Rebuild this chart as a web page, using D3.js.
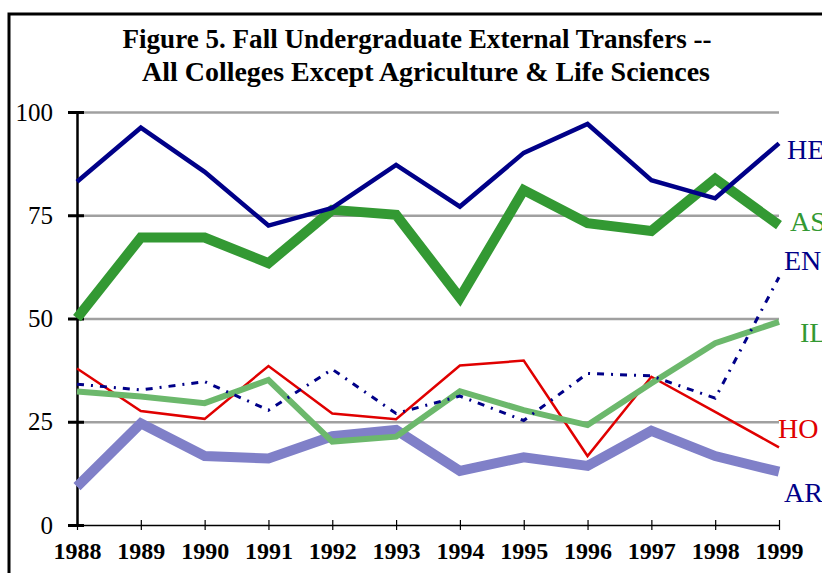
<!DOCTYPE html>
<html>
<head>
<meta charset="utf-8">
<script src="https://cdn.jsdelivr.net/npm/d3@7"></script>
<style>
  body { margin: 0; background: #fff; }
  svg { display: block; }
</style>
</head>
<body>
<div id="chart-area"></div>
<script>
// data
const years = [1988, 1989, 1990, 1991, 1992, 1993, 1994, 1995, 1996, 1997, 1998, 1999];
const yTicks = [0, 25, 50, 75, 100];
const titleLines = ["Figure 5. Fall Undergraduate External Transfers --",
                    "All Colleges Except Agriculture & Life Sciences"];

const HE = [83.1, 96.2, 85.5, 72.5, 76.8, 87.2, 77.1, 90.1, 97.1, 83.5, 79.1, 92.4];
const AS = [50.1, 69.6, 69.6, 63.4, 76.3, 75.1, 55.0, 81.1, 73.1, 71.2, 83.8, 72.6];
const EN = [34.1, 32.7, 34.7, 27.8, 37.7, 27.0, 31.2, 25.3, 36.7, 36.1, 30.7, 60.0];
const IL = [32.3, 31.1, 29.5, 35.1, 20.2, 21.4, 32.4, 27.8, 24.2, 34.3, 44.0, 49.2];
const HO = [37.9, 27.6, 25.7, 38.5, 27.0, 25.6, 38.6, 39.8, 16.7, 35.9, 27.4, 18.8];
const AR = [9.3, 24.6, 16.7, 16.1, 21.5, 23.0, 13.1, 16.4, 14.3, 22.8, 16.7, 12.9];

const seriesNames = ["AR", "HO", "IL", "EN", "AS", "HE"];
const seriesValues = [AR, HO, IL, EN, AS, HE];

// look of each line + where its label sits (pixel offsets from the line end)
const styles = {
    HE: {stroke: "#000088", width: 4.5, dash: null, label: "#000088", dx: 8, dy: 16},
    AS: {stroke: "#339933", width: 10, dash: null, label: "#339933", dx: 11, dy: 6},
    EN: {stroke: "#000088", width: 3, dash: "7,7,2,7", label: "#000088", dx: 5, dy: -7},
    IL: {stroke: "#6cb86c", width: 6, dash: null, label: "#339933", dx: 21, dy: 20},
    HO: {stroke: "#e00000", width: 2.5, dash: null, label: "#e00000", dx: -1, dy: -9},
    AR: {stroke: "#8080c8", width: 10, dash: null, label: "#000088", dx: 5, dy: 30}
};

const width = 822, height = 573;
const margin = {top: 112, right: 43, bottom: 48, left: 77};

const svg = d3.select("#chart-area").append("svg")
    .attr("width", width)
    .attr("height", height);

// outer frame (runs off the right and bottom edges)
svg.append("rect")
    .attr("x", 9).attr("y", 14)
    .attr("width", 900).attr("height", 700)
    .attr("fill", "none")
    .attr("stroke", "#000")
    .attr("stroke-width", 3);

const x = d3.scaleLinear()
    .domain(d3.extent(years))
    .range([margin.left, width - margin.right]);

const y = d3.scaleLinear()
    .domain([0, 100])
    .range([height - margin.bottom, margin.top]);

// title (the original face is a narrow bold serif, so squeeze to its widths)
const titleWidths = [589, 568];
svg.append("g")
    .attr("font-family", "'Liberation Serif', serif")
    .attr("font-weight", "bold")
    .attr("font-size", 27)
    .attr("text-anchor", "middle")
  .selectAll("text")
  .data(titleLines)
  .join("text")
    .attr("x", (d, i) => i === 0 ? 417 : 426)
    .attr("y", (d, i) => 48 + i * 33)
    .attr("textLength", (d, i) => titleWidths[i])
    .attr("lengthAdjust", "spacingAndGlyphs")
    .text(d => d);

// gridlines
svg.append("g")
    .attr("transform", `translate(${margin.left},0)`)
    .call(d3.axisLeft(y).tickValues(yTicks.filter(d => d > 0))
        .tickSize(-(x.range()[1] - x.range()[0])).tickFormat(""))
    .call(g => g.select(".domain").remove())
    .call(g => g.selectAll(".tick line").attr("stroke", "#a0a0a0").attr("stroke-width", 2.5));

// x axis
svg.append("g")
    .attr("transform", `translate(0,${y(0)})`)
    .call(d3.axisBottom(x).tickValues(years).tickFormat(d3.format("d")).tickSizeOuter(0))
    .call(g => g.select(".domain").attr("stroke-width", 1.5))
    .call(g => g.selectAll(".tick line").attr("y1", -5).attr("y2", 5).attr("stroke-width", 1.2))
    .call(g => g.selectAll(".tick text")
        .attr("y", 17)
        .attr("font-family", "'Liberation Serif', serif")
        .attr("font-weight", "bold")
        .attr("font-size", 24)
        .attr("fill", "#000"));

// y axis
svg.append("g")
    .attr("transform", `translate(${margin.left},0)`)
    .call(d3.axisLeft(y).tickValues(yTicks).tickSizeOuter(0).tickPadding(15))
    .call(g => g.select(".domain").attr("stroke-width", 2.5))
    .call(g => g.selectAll(".tick line").attr("x1", 7).attr("x2", -9).attr("stroke-width", 3))
    .call(g => g.selectAll(".tick text")
        .attr("x", -24)
        .attr("font-family", "'Liberation Serif', serif")
        .attr("font-size", 25)
        .attr("fill", "#000"));

const line = d3.line()
    .x((d, i) => x(years[i]))
    .y(d => y(d));

const series = seriesNames.map((name, i) => ({name: name, values: seriesValues[i]}));

svg.append("g")
    .attr("fill", "none")
    .attr("stroke-linejoin", "miter")
    .attr("stroke-linecap", "butt")
  .selectAll("path")
  .data(series)
  .join("path")
    .attr("stroke", d => styles[d.name].stroke)
    .attr("stroke-width", d => styles[d.name].width)
    .attr("stroke-dasharray", d => styles[d.name].dash)
    .attr("d", d => line(d.values));

// line labels at the right
svg.append("g")
    .attr("font-family", "'Liberation Serif', serif")
    .attr("font-size", 28)
  .selectAll("text")
  .data(series)
  .join("text")
    .attr("x", d => x(years[years.length - 1]) + styles[d.name].dx)
    .attr("y", d => y(d.values[d.values.length - 1]) + styles[d.name].dy)
    .attr("fill", d => styles[d.name].label)
    .text(d => d.name);
</script>
</body>
</html>
